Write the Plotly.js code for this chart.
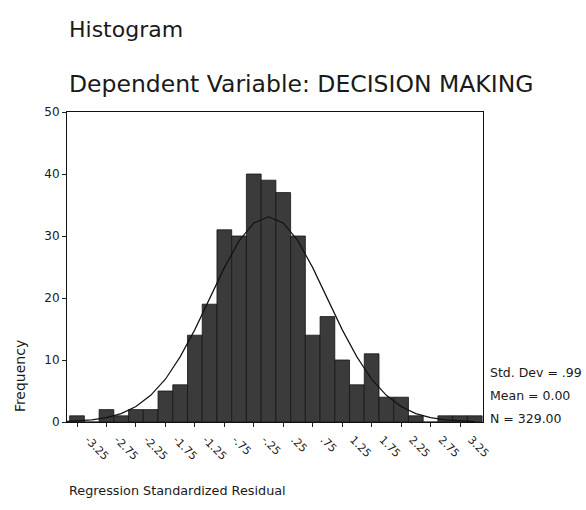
<!DOCTYPE html>
<html>
<head>
<meta charset="utf-8">
<script src="https://cdn.plot.ly/plotly-3.0.1.min.js"></script>
<style>html,body{margin:0;padding:0;background:#fff;}#chart{width:586px;height:510px;}</style>
</head>
<body>
<div id="chart"></div>
<script>
// Bin midpoints (width 0.25) and frequencies
var binCenters = [-3.25,-3.0,-2.75,-2.5,-2.25,-2.0,-1.75,-1.5,-1.25,-1.0,-0.75,-0.5,-0.25,0,0.25,0.5,0.75,1.0,1.25,1.5,1.75,2.0,2.25,2.5,2.75,3.0,3.25,3.5];
var frequencies = [1,0,2,1,2,2,5,6,14,19,31,30,40,39,37,30,14,17,10,6,11,4,4,1,0,1,1,1];

// Normal curve points
var curveX = [-3.5,-3.25,-3.0,-2.75,-2.5,-2.25,-2.0,-1.75,-1.5,-1.25,-1.0,-0.75,-0.5,-0.25,0,0.25,0.5,0.75,1.0,1.25,1.5,1.75,2.0,2.25,2.5,2.75,3.0,3.25,3.5];
var curveY = [0.06,0.15,0.34,0.7,1.36,2.5,4.3,6.9,10.5,14.9,19.9,24.9,29.2,32.1,33.1,32.1,29.2,24.9,19.9,14.9,10.5,6.9,4.3,2.5,1.36,0.7,0.34,0.15,0.06];

// Tick labels
var xTickVals = [-3.25,-2.75,-2.25,-1.75,-1.25,-0.75,-0.25,0.25,0.75,1.25,1.75,2.25,2.75,3.25];
var xTickText = ["-3.25","-2.75","-2.25","-1.75","-1.25","-.75","-.25",".25",".75","1.25","1.75","2.25","2.75","3.25"];
var yTickVals = [0,10,20,30,40,50];

var statsLines = ["Std. Dev = .99","Mean = 0.00","N = 329.00"];

var FONT = "DejaVu Sans, Verdana, sans-serif";
var TXT = "#1a1a1a";

var traces = [
  {
    type: "bar",
    x: binCenters,
    y: frequencies,
    width: 0.25,
    marker: {color: "#3b3b3b", line: {color: "#151515", width: 0.8}},
    hoverinfo: "x+y"
  },
  {
    type: "scatter",
    mode: "lines",
    x: curveX,
    y: curveY,
    line: {color: "#111111", width: 1.2},
    hoverinfo: "skip"
  }
];

var statY = [0.160, 0.086, 0.012];
var annotations = [
  {text: "Histogram", xref: "paper", yref: "paper", x: 0.0, y: 1.266, xanchor: "left", yanchor: "middle", showarrow: false, font: {family: FONT, size: 22, color: TXT}},
  {text: "Dependent Variable: DECISION MAKING", xref: "paper", yref: "paper", x: 0.0, y: 1.089, xanchor: "left", yanchor: "middle", showarrow: false, font: {family: FONT, size: 23.5, color: TXT}},
  {text: "Frequency", xref: "paper", yref: "paper", x: -0.113, y: 0.148, xanchor: "center", yanchor: "middle", textangle: -90, showarrow: false, font: {family: FONT, size: 14, color: TXT}},
  {text: "Regression Standardized Residual", xref: "paper", yref: "paper", x: 0.0, y: -0.2205, xanchor: "left", yanchor: "middle", showarrow: false, font: {family: FONT, size: 12.8, color: TXT}}
];
for (var i = 0; i < statsLines.length; i++) {
  annotations.push({text: statsLines[i], xref: "paper", yref: "paper", x: 1.012, y: statY[i], xanchor: "left", yanchor: "middle", showarrow: false, font: {family: FONT, size: 12.5, color: TXT}});
}

var layout = {
  width: 586,
  height: 510,
  margin: {l: 67, r: 103, t: 112, b: 88},
  paper_bgcolor: "#ffffff",
  plot_bgcolor: "#ffffff",
  showlegend: false,
  bargap: 0,
  font: {family: FONT, color: TXT},
  xaxis: {
    range: [-3.42, 3.64],
    tickmode: "array",
    tickvals: xTickVals,
    ticktext: xTickText,
    tickangle: 45,
    ticks: "outside",
    ticklen: 4,
    tickcolor: "#222",
    ticklabelshift: 11,
    ticklabelstandoff: 2,
    showline: true,
    linecolor: "#111",
    linewidth: 1,
    mirror: true,
    showgrid: false,
    zeroline: false,
    tickfont: {family: FONT, size: 11, color: TXT}
  },
  yaxis: {
    range: [0, 50],
    tickmode: "array",
    tickvals: yTickVals,
    ticks: "outside",
    ticklen: 4,
    tickcolor: "#222",
    showline: true,
    linecolor: "#111",
    linewidth: 1,
    mirror: true,
    showgrid: false,
    zeroline: false,
    tickfont: {family: FONT, size: 12, color: TXT}
  },
  annotations: annotations
};

Plotly.newPlot("chart", traces, layout, {displayModeBar: false, staticPlot: true});
</script>
</body>
</html>
